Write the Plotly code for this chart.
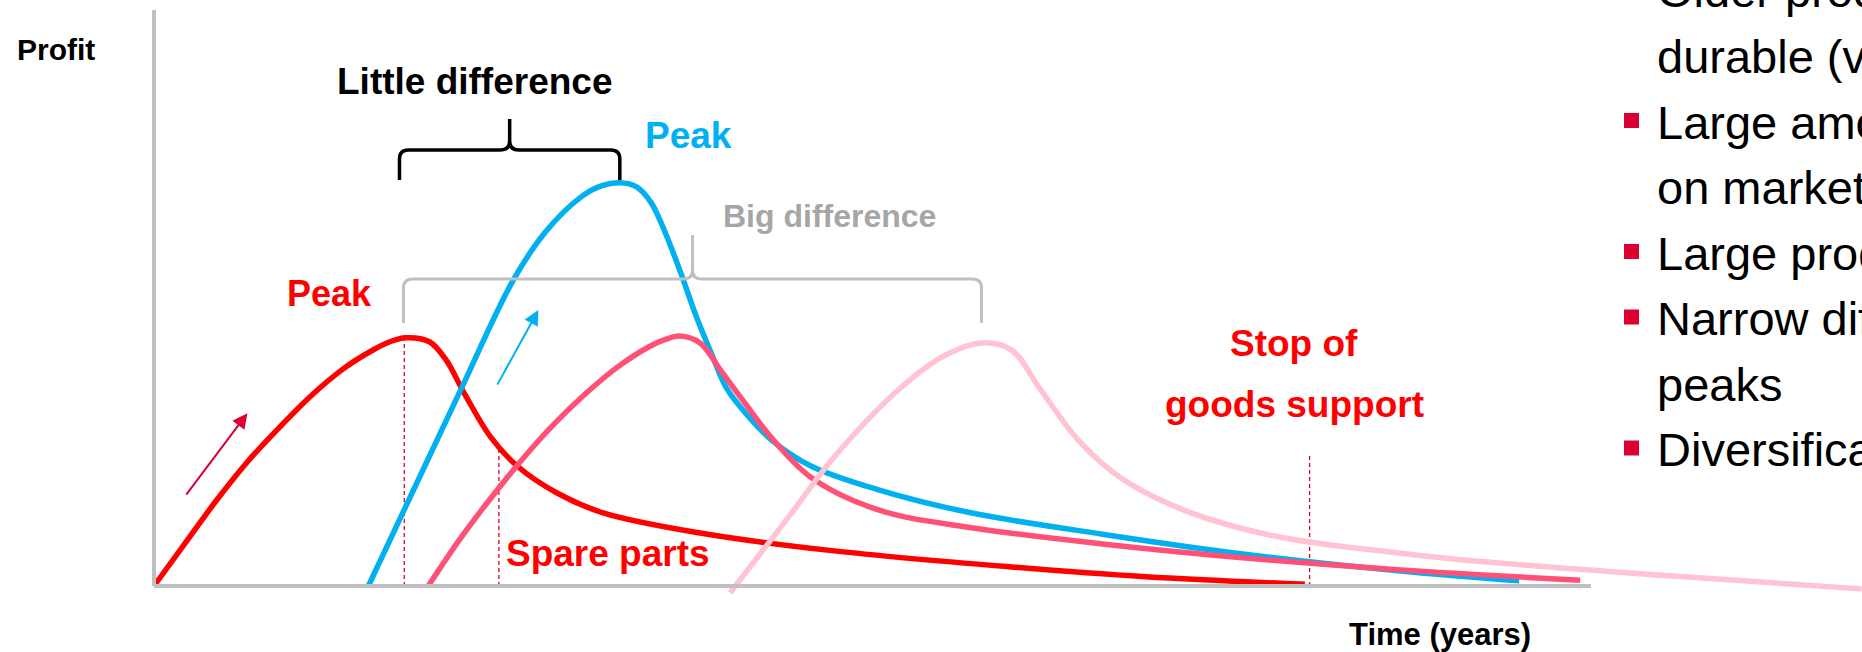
import plotly.graph_objects as go

# ---- profit curves: time (years) vs. profit (arbitrary units) ----
red_t = [0.0, 0.28, 0.53, 0.79, 1.05, 1.31, 1.58, 1.84, 1.97, 2.10, 2.30, 2.44, 2.59, 2.81, 3.04, 3.37, 3.75, 4.56, 5.68, 7.16, 8.28, 9.61]
red_p = [0.0, 0.80, 1.51, 2.18, 2.76, 3.30, 3.77, 4.11, 4.24, 4.31, 4.24, 3.92, 3.35, 2.59, 2.07, 1.61, 1.27, 0.92, 0.61, 0.33, 0.16, 0.03]

blue_t = [1.79, 2.17, 2.56, 3.00, 3.27, 3.57, 3.74, 3.89, 4.03, 4.15, 4.25, 4.40, 4.53, 4.66, 4.78, 4.94, 5.16, 5.49, 6.05, 6.80, 7.92, 9.04, 10.41, 11.40]
blue_p = [0.0, 1.68, 3.40, 5.31, 6.15, 6.76, 6.95, 7.00, 6.93, 6.66, 6.23, 5.43, 4.67, 4.01, 3.44, 3.00, 2.53, 2.08, 1.67, 1.28, 0.90, 0.57, 0.26, 0.09]

coral_t = [2.29, 2.55, 2.81, 3.08, 3.34, 3.61, 3.87, 4.13, 4.27, 4.39, 4.56, 4.74, 4.94, 5.15, 5.49, 6.05, 6.80, 7.92, 9.04, 10.41, 11.91]
coral_p = [0.0, 0.80, 1.52, 2.21, 2.81, 3.35, 3.80, 4.15, 4.28, 4.34, 4.22, 3.72, 3.16, 2.59, 1.88, 1.32, 1.02, 0.73, 0.50, 0.28, 0.10]

pink_t = [4.81, 5.30, 5.68, 6.24, 6.61, 6.91, 7.16, 7.39, 7.72, 8.10, 8.66, 9.40, 10.41, 11.06, 12.56, 14.26]
pink_p = [-0.12, 1.20, 2.24, 3.45, 4.01, 4.22, 4.10, 3.45, 2.53, 1.84, 1.27, 0.85, 0.57, 0.43, 0.19, -0.05]

# dashed markers: red peak, start of spare parts, stop of goods support
marker_t = [2.09, 2.88, 9.65]
marker_top = [4.31, 2.36, 2.27]

# trend arrows (tail -> head)
red_arrow = [(0.26, 1.56), (0.78, 3.00)]
blue_arrow = [(2.86, 3.47), (3.21, 4.79)]

T_MAX, P_MAX = 12.0, 10.0

bullet_lines = [
    "Older products are more",
    "durable (very long life)",
    "Large amount of products",
    "on market",
    "Large product range",
    "Narrow difference between",
    "peaks",
    "Diversification",
]
bullet_flags = [True, False, True, False, True, True, False, True]

# ---- page geometry ----
W, H = 1862, 652
X0_PX, Y0_PX = 154, 586
PX_PER_YEAR = 119.75
PX_PER_UNIT = 57.6

RED = "#FF0000"
BLUE = "#00B0F0"
CORAL = "#FF5078"
PINK = "#FFC3D2"
CRIMSON = "#DC0032"
GRAY = "#C0C0C0"
FONT = "Liberation Sans, Arial, sans-serif"


def dx(px):
    return px / PX_PER_YEAR


def dy(px):
    return px / PX_PER_UNIT


def peak_time(ts, ps):
    return ts[ps.index(max(ps))]


def brace_path(t0, t1, p_arm, rise, tip):
    """Curly brace opening downward between t0 and t1 (arms end at p_arm)."""
    r = 9.0
    tm = (t0 + t1) / 2
    ph = p_arm + dy(rise)
    pt = ph + dy(tip)
    rx, ry = dx(r), dy(r)
    return (
        f"M {t0},{p_arm} L {t0},{ph - ry} Q {t0},{ph} {t0 + rx},{ph} "
        f"L {tm - rx},{ph} Q {tm},{ph} {tm},{ph + ry} L {tm},{pt} "
        f"M {tm},{ph + ry} Q {tm},{ph} {tm + rx},{ph} "
        f"L {t1 - rx},{ph} Q {t1},{ph} {t1},{ph - ry} L {t1},{p_arm}"
    )


fig = go.Figure()

curves = [
    (red_t, red_p, RED),
    (blue_t, blue_p, BLUE),
    (coral_t, coral_p, CORAL),
    (pink_t, pink_p, PINK),
]

# dashed guide lines
gx, gy = [], []
for t, top in zip(marker_t, marker_top):
    gx += [t, t, None]
    gy += [0, top, None]
fig.add_trace(go.Scatter(x=gx, y=gy, mode="lines",
                         line=dict(color=CRIMSON, width=1.3, dash="4px,3px"),
                         hoverinfo="skip"))

for ts, ps, col in curves:
    fig.add_trace(go.Scatter(x=ts, y=ps, mode="lines",
                             line=dict(color=col, width=5.5, shape="spline", smoothing=1.0),
                             hoverinfo="skip"))

shapes = [
    # axes
    dict(type="line", x0=0, y0=0, x1=0, y1=P_MAX, line=dict(color=GRAY, width=4)),
    dict(type="line", x0=0, y0=0, x1=T_MAX, y1=0, line=dict(color=GRAY, width=4)),
]

t_red = peak_time(red_t, red_p)
t_blue = peak_time(blue_t, blue_p)
t_pink = peak_time(pink_t, pink_p)

# braces comparing peak times
shapes.append(dict(type="path", path=brace_path(t_red - dx(6), t_blue, dy(Y0_PX - 180), 30, 31),
                   line=dict(color="#000000", width=3.5)))
shapes.append(dict(type="path", path=brace_path(t_red - dx(2), t_pink, dy(Y0_PX - 323), 44, 44),
                   line=dict(color=GRAY, width=3)))

annotations = []


def label(text, xc, yc, size, color, bold=True, xanchor="center"):
    annotations.append(dict(
        text=text, x=xc / W, y=1 - yc / H, xref="paper", yref="paper",
        xanchor=xanchor, yanchor="middle", showarrow=False,
        font=dict(family=FONT, size=size, color=color, weight="bold" if bold else "normal"),
    ))


label("Profit", 56, 49, 30, "#000000")
label("Time (years)", 1440, 634, 31, "#000000")
label("Little difference", 475, 81, 37, "#000000")
label("Peak", 688, 135, 37, BLUE)
label("Big difference", 829, 216, 32, "#A6A6A6")
label("Peak", 329, 293, 36, RED)
label("Spare parts", 608, 553, 37, RED)
label("Stop of", 1294, 343, 37, RED)
label("goods support", 1294, 404, 37, RED)

# bullet list on the right
base0, step = 7.0, 65.5
for i, (line, has_bullet) in enumerate(zip(bullet_lines, bullet_flags)):
    baseline = base0 + step * i
    label(line, 1655, baseline - 16, 47, "#000000", bold=False, xanchor="left")
    if has_bullet:
        cy = baseline - 17.5
        shapes.append(dict(type="rect", xref="paper", yref="paper",
                           x0=1624 / W, x1=1639 / W, y0=1 - (cy + 7.5) / H, y1=1 - (cy - 7.5) / H,
                           fillcolor=CRIMSON, line=dict(width=0)))

# trend arrows
for (tail, head), col in [(red_arrow, CRIMSON), (blue_arrow, BLUE)]:
    annotations.append(dict(
        x=head[0], y=head[1], ax=tail[0], ay=tail[1], xref="x", yref="y",
        axref="x", ayref="y", text="", showarrow=True,
        arrowhead=2, arrowsize=1.5, arrowwidth=2, arrowcolor=col, standoff=0,
    ))

fig.update_layout(
    width=W, height=H,
    margin=dict(l=0, r=0, t=0, b=0),
    paper_bgcolor="white", plot_bgcolor="white",
    showlegend=False,
    xaxis=dict(range=[-X0_PX / PX_PER_YEAR, (W - X0_PX) / PX_PER_YEAR], visible=False, fixedrange=True),
    yaxis=dict(range=[(Y0_PX - H) / PX_PER_UNIT, Y0_PX / PX_PER_UNIT], visible=False, fixedrange=True),
    shapes=shapes,
    annotations=annotations,
)

fig.write_html("out.html", config={"displayModeBar": False})
